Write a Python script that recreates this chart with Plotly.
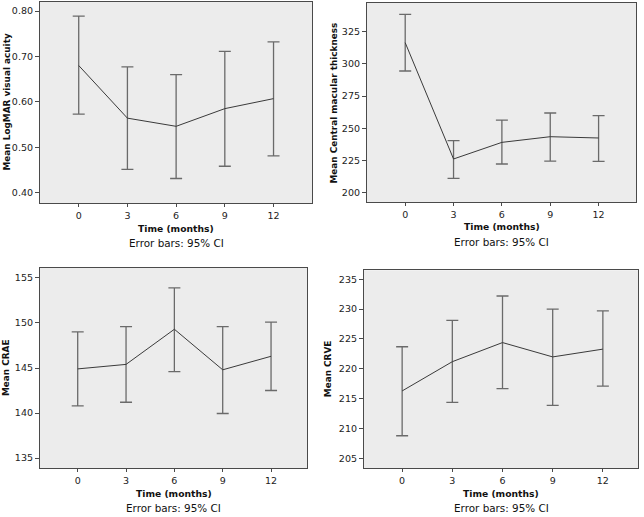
import plotly.graph_objects as go

months = ["0", "3", "6", "9", "12"]

va_mean = [0.680, 0.564, 0.546, 0.585, 0.607]
va_hi = [0.789, 0.677, 0.660, 0.711, 0.732]
va_lo = [0.573, 0.451, 0.431, 0.458, 0.481]

cmt_mean = [316.5, 226.2, 239.1, 243.5, 242.5]
cmt_hi = [338.5, 240.4, 256.4, 261.9, 259.8]
cmt_lo = [294.5, 211.2, 222.3, 224.6, 224.3]

crae_mean = [144.9, 145.4, 149.3, 144.8, 146.3]
crae_hi = [149.0, 149.6, 153.9, 149.6, 150.1]
crae_lo = [140.8, 141.2, 144.6, 139.95, 142.5]

crve_mean = [216.3, 221.2, 224.4, 222.0, 223.3]
crve_hi = [223.7, 228.1, 232.2, 230.0, 229.7]
crve_lo = [208.8, 214.4, 216.7, 213.9, 217.1]

y_titles = ["Mean LogMAR visual acuity", "Mean Central macular thickness",
            "Mean CRAE", "Mean CRVE"]
x_title = "Time (months)"
caption = "Error bars: 95% CI"

W, H = 644, 517
# panel boxes in pixels: (left, right, top, bottom)
boxes = [(40, 312, 2, 203), (367, 636.3, 3, 202), (40, 307.3, 268, 468), (364, 638, 270.3, 468)]
xranges = [[-0.795, 4.79], [-0.79, 4.78], [-0.78, 4.75], [-0.76, 4.70]]
yranges = [[0.377, 0.82], [192.8, 347.3], [133.9, 156.1], [203.4, 236.5]]
ytickvals = [[0.4, 0.5, 0.6, 0.7, 0.8], [200, 225, 250, 275, 300, 325],
             [135, 140, 145, 150, 155], [205, 210, 215, 220, 225, 230, 235]]
ytickfmt = [".2f", "d", "d", "d"]
ytitle_x = [6, 333, 6, 328]

series = [(va_mean, va_hi, va_lo), (cmt_mean, cmt_hi, cmt_lo),
          (crae_mean, crae_hi, crae_lo), (crve_mean, crve_hi, crve_lo)]

FONT = "DejaVu Sans"
fig = go.Figure()
annotations = []
for i, (m, hi, lo) in enumerate(series):
    n = "" if i == 0 else str(i + 1)
    xa, ya = "x" + n, "y" + n
    fig.add_trace(go.Scatter(
        x=months, y=m, mode="lines", xaxis=xa, yaxis=ya,
        line=dict(color="#3a3a3a", width=1),
        error_y=dict(type="data", symmetric=False,
                     array=[h - v for h, v in zip(hi, m)],
                     arrayminus=[v - l for v, l in zip(m, lo)],
                     color="#6a6a6a", thickness=1.3, width=6),
        showlegend=False, hoverinfo="skip"))
    l, r, t, b = boxes[i]
    fig.layout["xaxis" + n] = dict(
        domain=[l / W, r / W], anchor=ya, type="category", range=xranges[i],
        showgrid=False, zeroline=False, showline=True, linecolor="#4a4a4a",
        linewidth=1.2, mirror=True, ticks="outside", ticklen=3, tickcolor="#4a4a4a",
        tickfont=dict(family=FONT, size=9.5, color="#222"))
    fig.layout["yaxis" + n] = dict(
        domain=[1 - b / H, 1 - t / H], anchor=xa, range=yranges[i],
        tickvals=ytickvals[i], tickformat=ytickfmt[i],
        showgrid=False, zeroline=False, showline=True, linecolor="#4a4a4a",
        linewidth=1.2, mirror=True, ticks="outside", ticklen=4, tickcolor="#4a4a4a",
        tickfont=dict(family=FONT, size=9.5, color="#222"))
    cx = (l + r) / 2 / W
    annotations.append(dict(x=cx, y=1 - (b + 25) / H, xref="paper", yref="paper",
                            text="<b>" + x_title + "</b>", showarrow=False,
                            font=dict(family=FONT, size=9.2, color="#111"),
                            xanchor="center", yanchor="middle"))
    annotations.append(dict(x=cx, y=1 - (b + 40) / H, xref="paper", yref="paper",
                            text=caption, showarrow=False,
                            font=dict(family=FONT, size=10.4, color="#111"),
                            xanchor="center", yanchor="middle"))
    annotations.append(dict(x=ytitle_x[i] / W, y=1 - (t + b) / 2 / H, xref="paper", yref="paper",
                            text="<b>" + y_titles[i] + "</b>", showarrow=False, textangle=-90,
                            font=dict(family=FONT, size=8.9, color="#111"),
                            xanchor="center", yanchor="middle"))

fig.update_layout(width=W, height=H, margin=dict(l=0, r=0, t=0, b=0),
                  paper_bgcolor="white", plot_bgcolor="#ececec",
                  annotations=annotations, font=dict(family=FONT))
fig.write_html("out.html", config={"displayModeBar": False},
               post_script="document.body.style.margin='0';document.body.style.overflow='hidden';")
